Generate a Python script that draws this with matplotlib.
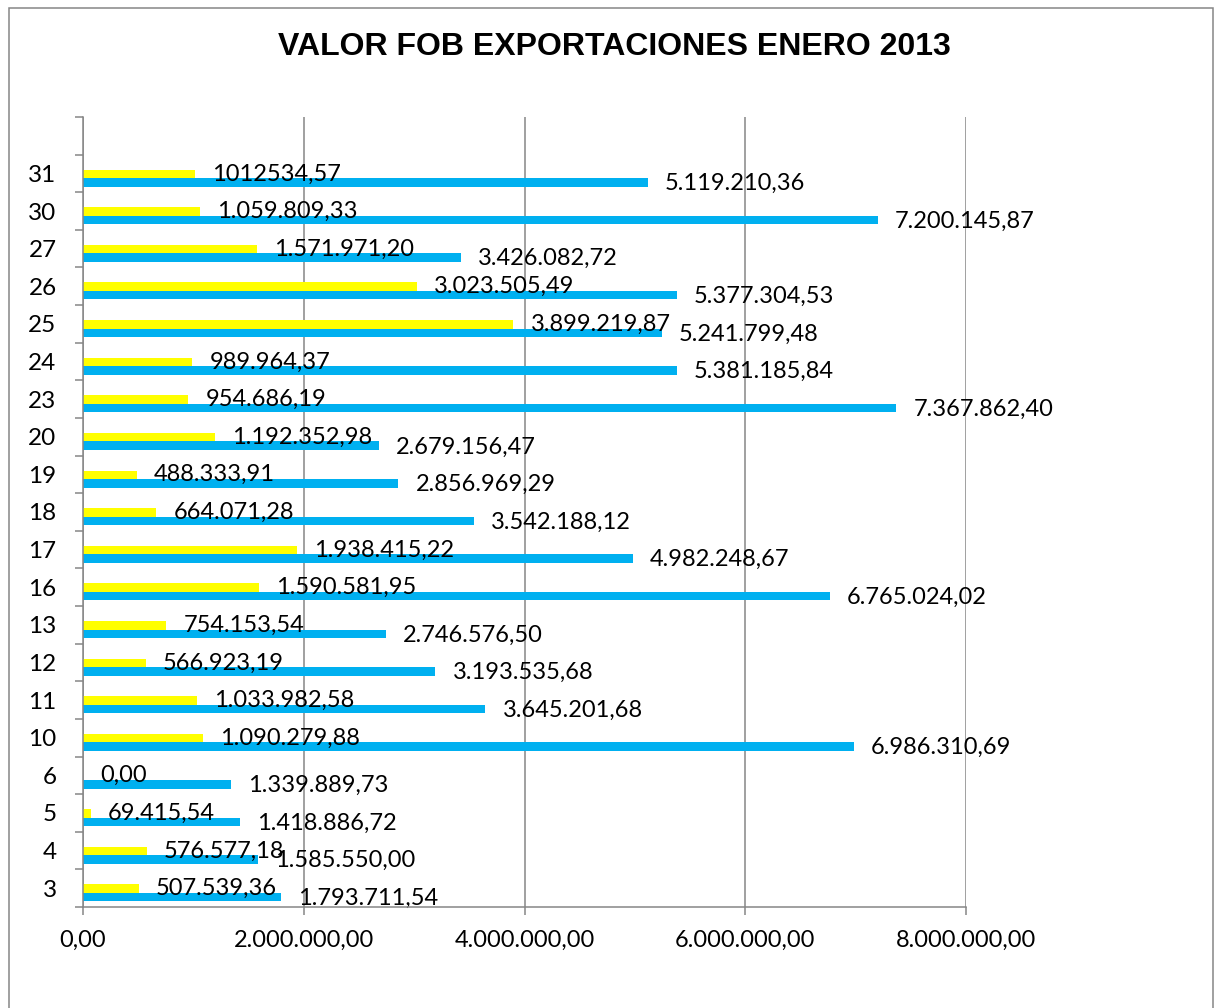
import numpy as np
import matplotlib
matplotlib.use("Agg")
import matplotlib.pyplot as plt
from matplotlib.patches import Rectangle

# days of january 2013 (bottom to top)
days = ['3', '4', '5', '6', '10', '11', '12', '13', '16', '17',
        '18', '19', '20', '23', '24', '25', '26', '27', '30', '31']
# blue series
fob_blue = [1793711.54, 1585550.00, 1418886.72, 1339889.73, 6986310.69,
            3645201.68, 3193535.68, 2746576.50, 6765024.02, 4982248.67,
            3542188.12, 2856969.29, 2679156.47, 7367862.40, 5381185.84,
            5241799.48, 5377304.53, 3426082.72, 7200145.87, 5119210.36]
# yellow series
fob_yellow = [507539.36, 576577.18, 69415.54, 0.00, 1090279.88,
              1033982.58, 566923.19, 754153.54, 1590581.95, 1938415.22,
              664071.28, 488333.91, 1192352.98, 954686.19, 989964.37,
              3899219.87, 3023505.49, 1571971.20, 1059809.33, 1012534.57]
x_ticks = [0, 2000000, 4000000, 6000000, 8000000]


def fmt(v):
    # spanish style: 1.234.567,89
    s = f"{v:,.2f}"
    return s.replace(",", "X").replace(".", ",").replace("X", ".")


blue_labels = [fmt(v) for v in fob_blue]
yellow_labels = [fmt(v) for v in fob_yellow]
yellow_labels[-1] = "1012534,57"  # written without separators in the source

GRID = '#868686'
BLUE = '#00B0F0'
YELLOW = '#FFFF00'
font = ['Lato', 'DejaVu Sans']
FS = 17

fig = plt.figure(figsize=(12.15, 10.08), dpi=100)
ax = fig.add_axes([83 / 1215, 1 - 907 / 1008, (966 - 83) / 1215, (907 - 117) / 1008])

pos = np.arange(len(days))
h = 0.226
off = -0.125
ax.barh(pos + off - h / 2, fob_blue, height=h, color=BLUE, zorder=3)
ax.barh(pos + off + h / 2, fob_yellow, height=h, color=YELLOW, zorder=3)

gap = 155000
for i in range(len(days)):
    ax.text(fob_blue[i] + gap, pos[i] + off - h / 2 - 0.03, blue_labels[i],
            va='center', ha='left', fontsize=FS, family=font, zorder=4)
    ax.text(fob_yellow[i] + gap, pos[i] + off + h / 2, yellow_labels[i],
            va='center', ha='left', fontsize=FS, family=font, zorder=4)

ax.set_xlim(0, 8000000)
ax.set_ylim(-0.5, len(days) + 0.5)
ax.set_xticks(x_ticks)
ax.set_xticklabels([fmt(v) for v in x_ticks], family=font, fontsize=FS)
ax.set_yticks(pos)
ax.set_yticklabels(days, family=font, fontsize=FS + 0.5)
ax.set_yticks(np.arange(-0.5, len(days) + 1), minor=True)
ax.tick_params(axis='y', which='major', length=0, pad=19)
ax.tick_params(axis='y', which='minor', length=5.5, width=1.1, color=GRID, direction='out')
ax.tick_params(axis='x', length=5.5, width=1.1, color=GRID, pad=11)

ax.grid(axis='x', color=GRID, linewidth=1.1, zorder=0)
for s in ['top', 'right']:
    ax.spines[s].set_visible(False)
for s in ['left', 'bottom']:
    ax.spines[s].set_color(GRID)
    ax.spines[s].set_linewidth(1.1)
    ax.spines[s].set_zorder(5)

fig.text(614 / 1215, 1 - 47 / 1008, "VALOR FOB EXPORTACIONES ENERO 2013",
         ha='center', va='center', fontsize=23, fontweight='bold',
         family=['Liberation Sans', 'DejaVu Sans'])

# chart area frame
fig.add_artist(Rectangle((9 / 1215, -0.1), (1213 - 9) / 1215, 1000 / 1008 + 0.1,
                         transform=fig.transFigure, fill=False, ec=GRID, lw=1.1))

fig.savefig('out.png', dpi=100)
